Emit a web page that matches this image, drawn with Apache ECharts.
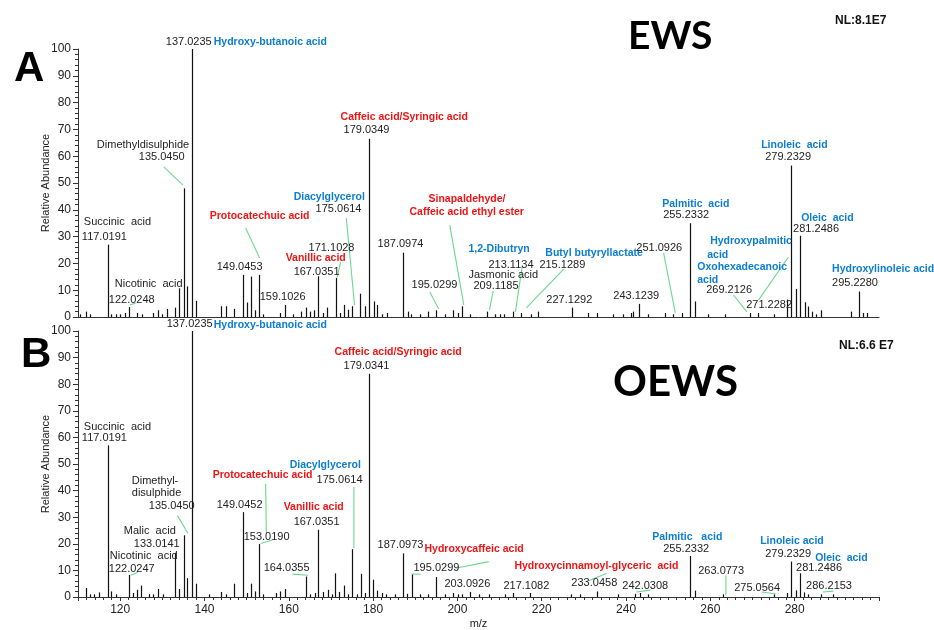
<!DOCTYPE html>
<html>
<head>
<meta charset="utf-8">
<script src="https://cdn.jsdelivr.net/npm/echarts@6/dist/echarts.min.js"></script>
<style>
  html, body { margin: 0; padding: 0; background: #fff; }
  #chart { width: 934px; height: 630px; }
</style>
</head>
<body>
<div id="chart"></div>
<script>
// ---- data: panel A (EWS) ----
const mzA = [110.4, 112.0, 112.9, 117.0191, 117.8, 118.9, 120.0, 121.2, 122.0248, 124.0, 125.2, 127.9, 128.9, 129.9,
  131.1, 133.1, 134.0, 135.0450, 135.9, 137.0235, 138.0, 144.0, 145.1, 147.1, 149.0453, 150.1, 151.0, 152.0, 153.0,
  154.0, 158.0, 159.1026, 161.1, 162.9, 164.0, 165.1, 166.0, 167.0351, 168.0, 169.0, 171.1028, 172.2, 173.0, 174.0,
  175.0614, 177.0, 178.1, 179.0349, 180.1, 181.0, 182.1, 183.3, 187.0974, 188.2, 189.0, 191.2, 193.1, 195.0299, 197.1,
  199.0, 200.1, 201.1, 203.0, 207.1, 209.0, 210.0, 211.0, 213.2, 215.1, 217.5, 219.2, 227.1292, 231.0, 233.0, 237.0,
  239.3, 241.2, 241.7, 243.1239, 245.2, 249.2, 251.1, 253.2, 255.2332, 256.4, 259.5, 263.5, 269.3, 271.3, 275.1,
  278.2, 279.2329, 280.35, 281.2486, 282.4, 283.2, 284.1, 285.0, 286.2, 293.3, 295.2280, 296.2, 297.2];
const intA = [1, 2, 1, 27, 1, 1, 1, 1.5, 3.7, 1.5, 1, 1.5, 2.5, 1,
  3, 3.5, 10.7, 48, 11.4, 100, 6, 4, 4, 3, 15.7, 5.4, 15.1, 2.5, 15.7,
  1, 1.5, 4.5, 1, 2, 3.5, 2, 2.5, 15.2, 1.5, 3.5, 14.6, 1.5, 4.5, 2.7,
  4, 8.7, 4, 66.5, 5.8, 4.5, 1, 1.5, 24, 2, 1, 1, 2, 2.5, 1,
  2.5, 1.5, 4, 1, 2, 1, 1, 1, 2, 1.5, 1, 2, 3.5, 1.5, 1.5, 1,
  1, 1.5, 2, 4.9, 1, 1.5, 1, 1.5, 35, 5.8, 1, 1, 1.5, 1.5, 1,
  6.5, 56.5, 10.5, 30.3, 5.5, 3.9, 2, 1, 2.5, 2, 9.5, 1.5, 1.5];

// ---- data: panel B (OEWS) ----
const mzB = [112.0, 112.9, 113.9, 114.9, 117.0191, 117.9, 118.9, 122.0247, 123.0, 124.0, 125.0, 126.8, 127.9, 129.0,
  130.1, 133.0141, 134.0, 135.0450, 135.9, 137.0235, 138.0, 141.0, 144.0, 145.0, 147.1, 149.0452, 150.0, 151.0, 152.0,
  153.0190, 154.0, 157.0, 158.0, 159.2, 164.0355, 165.1, 166.1, 167.0351, 168.2, 169.3, 170.2, 171.0, 172.0, 173.1,
  174.1, 175.0614, 176.1, 177.1, 178.1, 179.0341, 180.0, 181.0, 182.0, 183.1, 185.1, 187.0973, 188.1, 189.2, 191.2,
  193.1, 195.0299, 197.1, 199.0, 200.1, 201.0, 203.0926, 205.0, 207.4, 211.3, 213.3, 217.1082, 227.0, 229.0,
  233.0458, 238.2, 242.1, 243.3, 245.2, 255.2332, 256.3, 263.0773, 275.0564, 278.2, 279.2329, 280.3, 281.2486,
  282.2, 283.1, 286.2, 289.2];
const intB = [3.4, 1, 1, 1.7, 57, 2.1, 1, 8.3, 1.5, 2.7, 4.3, 1.1, 1, 3,
  1, 16.6, 3, 23.2, 7.1, 100, 5, 1, 1.9, 1, 5, 31.9, 1.5, 5, 2.1,
  19.9, 1, 1.5, 2.1, 3, 7.7, 1, 1.5, 25.3, 1.9, 2.7, 1, 8.9, 1.9, 4.3,
  1, 18, 1, 8.7, 1.5, 83.9, 6.5, 2.4, 1.5, 1, 1, 16.4, 1.2, 8.6, 1,
  1, 7.5, 1, 1.5, 1, 1, 1.9, 1, 1, 1, 1.5, 1.5, 1, 1,
  2.1, 1, 1.2, 1.5, 1, 15.4, 2.4, 1, 1, 1.5, 13.3, 2.5, 8.9,
  1.7, 1, 1, 1];

// ---- annotations (text, kind k=black r=red b=blue) ----
const labelTextA = ['137.0235', 'Hydroxy-butanoic acid', 'Dimethyldisulphide', '135.0450', 'Succinic  acid', '117.0191',
  'Nicotinic  acid', '122.0248', 'Protocatechuic acid', '149.0453', '159.1026', 'Diacylglycerol', '175.0614', '171.1028',
  'Vanillic acid', '167.0351', 'Caffeic acid/Syringic acid', '179.0349', '187.0974', '195.0299', 'Sinapaldehyde/',
  'Caffeic acid ethyl ester', '1,2-Dibutryn', '213.1134', 'Jasmonic acid', '209.1185', 'Butyl butyryllactate',
  '215.1289', '227.1292', '243.1239', '251.0926', 'Palmitic  acid', '255.2332', 'Hydroxypalmitic', 'acid',
  'Oxohexadecanoic', 'acid', '269.2126', '271.2282', 'Linoleic  acid', '279.2329', 'Oleic  acid', '281.2486',
  'Hydroxylinoleic acid', '295.2280'];
const labelKindA = ['k', 'b', 'k', 'k', 'k', 'k', 'k', 'k', 'r', 'k', 'k', 'b', 'k', 'k', 'r', 'k', 'r', 'k', 'k', 'k', 'r',
  'r', 'b', 'k', 'k', 'k', 'b', 'k', 'k', 'k', 'k', 'b', 'k', 'b', 'b', 'b', 'b', 'k', 'k', 'b', 'k', 'b', 'k', 'b', 'k'];
const labelMzA = [130.82, 142.19, 114.47, 124.42, 111.38, 110.91, 118.73, 117.31, 141.24, 142.90, 153.09, 161.15, 166.36,
  164.70, 159.25, 161.15, 172.29, 173.0, 181.05, 189.11, 193.14, 188.64, 202.62, 207.36, 202.62, 203.80, 220.86,
  219.44, 221.10, 236.98, 242.43, 248.59, 248.82, 259.96, 259.25, 256.88, 256.88, 259.01, 268.49, 272.05, 273.0,
  281.53, 279.63, 288.87, 288.87];
const labelValA = [102.6, 102.6, 64.2, 59.7, 35.4, 29.9, 12.3, 6.3, 37.7, 18.7, 7.5, 44.8, 40.3, 25.7, 22.0, 16.8, 74.6,
  69.8, 27.2, 11.9, 44.0, 39.2, 25.4, 19.4, 15.7, 11.6, 23.9, 19.4, 6.3, 7.8, 25.7, 42.2, 38.1, 28.4, 23.1, 18.7,
  13.8, 10.1, 4.5, 64.2, 59.7, 36.9, 32.8, 17.9, 12.7];
// leader lines [mz1, val1, mz2, val2]
const leaderA = [[130.34, 56.0, 134.84, 49.3], [122.3, 4.5, 123.7, 5.2], [149.77, 33.2, 153.09, 22.0],
  [173.64, 36.9, 175.60, 4.5], [172.29, 20.5, 171.50, 14.9], [193.45, 9.3, 195.58, 3.0], [198.19, 34.3, 201.51, 4.5],
  [215.34, 18.7, 213.76, 1.9], [208.47, 9.7, 207.60, 2.6], [225.20, 17.9, 216.36, 3.4], [248.90, 23.9, 251.68, 1.5],
  [265.49, 8.2, 268.66, 1.9], [278.52, 22.4, 271.41, 6.3]];

const labelTextB = ['137.0235', 'Hydroxy-butanoic acid', 'Succinic  acid', '117.0191', 'Dimethyl-', 'disulphide',
  '135.0450', 'Malic  acid', '133.0141', 'Nicotinic  acid', '122.0247', 'Protocatechuic acid', '149.0452', '153.0190',
  '164.0355', 'Diacylglycerol', '175.0614', 'Vanillic acid', '167.0351', 'Caffeic acid/Syringic acid', '179.0341',
  '187.0973', 'Hydroxycaffeic acid', '195.0299', '203.0926', '217.1082', 'Hydroxycinnamoyl-glyceric  acid',
  '233.0458', '242.0308', 'Palmitic   acid', '255.2332', '263.0773', '275.0564', 'Linoleic acid', '279.2329',
  'Oleic  acid', '281.2486', '286.2153'];
const labelKindB = ['k', 'b', 'k', 'k', 'k', 'k', 'k', 'k', 'k', 'k', 'k', 'r', 'k', 'k', 'k', 'b', 'k', 'r', 'k', 'r', 'k',
  'k', 'r', 'k', 'k', 'k', 'r', 'k', 'k', 'b', 'k', 'k', 'k', 'b', 'k', 'b', 'k', 'k'];
const labelMzB = [131.05, 142.19, 111.38, 110.91, 122.76, 122.76, 126.79, 120.86, 123.23, 117.55, 117.31, 141.95, 142.90,
  149.30, 154.04, 160.20, 166.60, 158.78, 161.15, 170.86, 173.0, 181.05, 192.19, 189.58, 196.93, 210.91, 213.52,
  227.03, 239.11, 246.22, 248.82, 257.12, 265.65, 271.81, 273.0, 284.85, 280.34, 282.71];
const labelValB = [102.5, 102.2, 64.1, 59.6, 43.6, 39.1, 34.3, 25.0, 20.1, 15.3, 10.4, 45.8, 34.7, 22.7, 10.8, 49.6, 44.0,
  33.9, 28.3, 92.1, 86.8, 19.4, 17.9, 10.8, 4.8, 4.1, 11.6, 5.2, 4.1, 22.7, 17.9, 9.7, 3.4, 20.9, 16.0, 14.5, 10.8, 4.1];
const leaderB = [[133.59, 30.6, 136.10, 23.9], [122.52, 8.2, 124.18, 9.3], [154.51, 42.5, 154.68, 23.9],
  [153.33, 20.1, 156.10, 21.4], [160.84, 8.6, 164.54, 8.2], [175.44, 41.4, 175.44, 18.3], [199.54, 10.8, 207.43, 13.3],
  [189.11, 8.6, 191.24, 8.6], [231.12, 6.1, 235.48, 8.9], [242.43, 1.9, 245.75, 2.6], [263.68, 8.2, 263.68, 0.7],
  [272.21, 1.9, 275.53, 1.1], [286.66, 1.9, 289.18, 2.2]];

const yTicks = [0, 10, 20, 30, 40, 50, 60, 70, 80, 90, 100];
const xTicks = [120, 140, 160, 180, 200, 220, 240, 260, 280];

const FONT = '"Liberation Sans", Arial, sans-serif';
const TITLE_FONT = 'Lato, "Open Sans", sans-serif';
const kindColor = { k: '#222', r: '#F01414', b: '#0B7DD2' };
const GREEN = '#6CD88F';

const chart = echarts.init(document.getElementById('chart'), null, { renderer: 'canvas' });

// 质谱峰：从基线画到强度值
const peakSeries = (mz, ints, idx) => ({
  type: 'custom',
  xAxisIndex: idx,
  yAxisIndex: idx,
  data: mz.map((m, i) => [m, ints[i]]),
  renderItem: (params, api) => {
    const p0 = api.coord([api.value(0), 0]);
    const p1 = api.coord([api.value(0), api.value(1)]);
    const x = Math.round(p0[0]) + 0.5;
    return {
      type: 'line',
      shape: { x1: x, y1: p0[1], x2: x, y2: p1[1] },
      style: { stroke: '#111', lineWidth: 1.2 },
    };
  },
  z: 3,
});

// 绿色引线
const leaderSeries = (segs, idx) => ({
  type: 'custom',
  xAxisIndex: idx,
  yAxisIndex: idx,
  clip: false,
  data: segs,
  renderItem: (params, api) => {
    const a = api.coord([api.value(0), api.value(1)]);
    const b = api.coord([api.value(2), api.value(3)]);
    return {
      type: 'line',
      shape: { x1: a[0], y1: a[1], x2: b[0], y2: b[1] },
      style: { stroke: GREEN, lineWidth: 1.1 },
    };
  },
  z: 4,
});

// 峰标注文字
const labelSeries = (texts, kinds, mzs, vals, idx) => ({
  type: 'custom',
  xAxisIndex: idx,
  yAxisIndex: idx,
  clip: false,
  data: mzs.map((m, i) => [m, vals[i]]),
  renderItem: (params, api) => {
    const i = params.dataIndex;
    const p = api.coord([api.value(0), api.value(1)]);
    const k = kinds[i];
    return {
      type: 'text',
      x: p[0],
      y: p[1],
      style: {
        text: texts[i],
        fill: kindColor[k],
        font: (k === 'k' ? '11px ' : 'bold 10.5px ') + FONT,
        align: 'left',
        verticalAlign: 'middle',
      },
    };
  },
  z: 5,
});

const yAxisCommon = {
  type: 'value',
  min: 0,
  max: 100,
  interval: 10,
  name: 'Relative Abundance',
  nameLocation: 'middle',
  nameGap: 27,
  nameMoveOverlap: false,
  nameTextStyle: { fontFamily: FONT, fontSize: 11, color: '#222' },
  axisLine: { show: true, lineStyle: { color: '#333', width: 1 } },
  axisTick: { show: true, length: 5, lineStyle: { color: '#333' } },
  minorTick: { show: true, splitNumber: 5, length: 3, lineStyle: { color: '#333' } },
  splitLine: { show: false },
  axisLabel: {
    fontFamily: FONT, fontSize: 12, color: '#222', margin: 7,
    formatter: (v) => (yTicks.includes(v) ? String(v) : ''),
  },
};

const xAxisCommon = {
  type: 'value',
  min: 110,
  max: 300,
  splitNumber: 10,
  splitLine: { show: false },
  axisLine: { show: true, onZero: false, lineStyle: { color: '#333', width: 1 } },
};

const option = {
  backgroundColor: '#fff',
  animation: false,
  grid: [
    { left: 78, right: 55, top: 49, height: 268 },
    { left: 78, right: 55, top: 331, height: 268 },
  ],
  xAxis: [
    Object.assign({}, xAxisCommon, {
      gridIndex: 0,
      axisTick: { show: false },
      axisLabel: { show: false },
    }),
    Object.assign({}, xAxisCommon, {
      gridIndex: 1,
      name: 'm/z',
      nameLocation: 'middle',
      nameGap: 21,
      nameMoveOverlap: false,
      nameTextStyle: { fontFamily: FONT, fontSize: 11, color: '#222' },
      axisTick: { show: true, length: 4, lineStyle: { color: '#333' } },
      minorTick: { show: true, splitNumber: 10, length: 3, lineStyle: { color: '#333' } },
      axisLabel: {
        fontFamily: FONT, fontSize: 12, color: '#222', margin: 7,
        showMinLabel: false, showMaxLabel: false,
        formatter: (v) => (xTicks.includes(v) ? String(v) : ''),
      },
    }),
  ],
  yAxis: [
    Object.assign({}, yAxisCommon, { gridIndex: 0 }),
    Object.assign({}, yAxisCommon, { gridIndex: 1 }),
  ],
  graphic: [
    { type: 'text', left: 14, top: 48, style: { text: 'A', font: 'bold 42px ' + FONT, fill: '#000' } },
    { type: 'text', left: 21, top: 334, style: { text: 'B', font: 'bold 42px ' + FONT, fill: '#000' } },
    { type: 'text', left: 628, top: 17, style: { text: 'EWS', font: 'bold 39px ' + TITLE_FONT, fill: '#000' } },
    { type: 'text', left: 613, top: 361, style: { text: 'OEWS', font: 'bold 42px ' + TITLE_FONT, fill: '#000' } },
    { type: 'text', left: 835, top: 15, style: { text: 'NL:8.1E7', font: 'bold 12px ' + FONT, fill: '#111' } },
    { type: 'text', left: 839, top: 340, style: { text: 'NL:6.6 E7', font: 'bold 12px ' + FONT, fill: '#111' } },
  ],
  series: [
    peakSeries(mzA, intA, 0),
    leaderSeries(leaderA, 0),
    labelSeries(labelTextA, labelKindA, labelMzA, labelValA, 0),
    peakSeries(mzB, intB, 1),
    leaderSeries(leaderB, 1),
    labelSeries(labelTextB, labelKindB, labelMzB, labelValB, 1),
  ],
};

chart.setOption(option);
window.addEventListener('resize', () => chart.resize());
</script>
</body>
</html>
